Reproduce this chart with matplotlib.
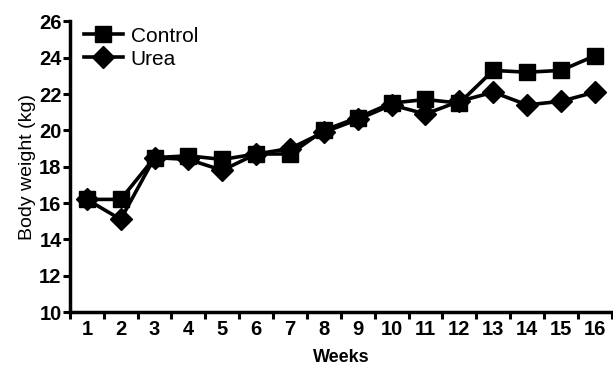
import numpy as np
import matplotlib
matplotlib.use("Agg")
import matplotlib.pyplot as plt
from matplotlib.ticker import FixedLocator, NullFormatter

# % data

weeks = [1, 2, 3, 4, 5, 6, 7, 8, 9, 10, 11, 12, 13, 14, 15, 16]
control = [16.2, 16.2, 18.5, 18.6, 18.4, 18.7, 18.7, 20.0, 20.7, 21.5, 21.7, 21.5, 23.3, 23.2, 23.3, 24.1]
urea = [16.2, 15.1, 18.5, 18.4, 17.8, 18.7, 19.0, 19.9, 20.6, 21.4, 20.9, 21.6, 22.1, 21.4, 21.6, 22.1]
yticks = [10, 12, 14, 16, 18, 20, 22, 24, 26]

# %% plot

plt.rcParams["font.family"] = ["Liberation Sans", "DejaVu Sans"]

fig = plt.figure(figsize=(6.13, 3.68), dpi=100)
ax = fig.add_axes([0.114, 0.152, 0.884, 0.79])

# urea first so the control squares sit on top
l_urea, = ax.plot(weeks, urea, color="black", lw=2.6, marker="D", ms=11, label="Urea")
l_ctrl, = ax.plot(weeks, control, color="black", lw=2.6, marker="s", ms=11, label="Control")

ax.set_xlim(0.5, 16.5)
ax.set_ylim(10, 26)
ax.set_yticks(yticks)
ax.set_yticklabels([str(v) for v in yticks], fontsize=14.5, fontweight="bold")

# week ticks sit between the labels
ax.xaxis.set_major_locator(FixedLocator(np.arange(0.5, 17, 1.0)))
ax.xaxis.set_major_formatter(NullFormatter())
ax.xaxis.set_minor_locator(FixedLocator(weeks))
ax.set_xticklabels([str(w) for w in weeks], minor=True, fontsize=14.5, fontweight="bold")
ax.tick_params(axis="x", which="minor", length=0, pad=6)
ax.tick_params(axis="both", which="major", direction="out", length=5, width=2.2)
ax.tick_params(axis="y", pad=1)

for s in ["top", "right"]:
    ax.spines[s].set_visible(False)
for s in ["left", "bottom"]:
    ax.spines[s].set_linewidth(2.5)

ax.set_xlabel("Weeks", fontsize=13, fontweight="bold", labelpad=7)
ax.set_ylabel("Body weight (kg)", fontsize=14, labelpad=2)

ax.legend([l_ctrl, l_urea], ["Control", "Urea"], loc="upper left", frameon=False,
          fontsize=15, handlelength=1.9, handletextpad=0.35, labelspacing=0.18,
          borderaxespad=0.0, bbox_to_anchor=(0.01, 1.01))

fig.savefig("out.png", dpi=100)
